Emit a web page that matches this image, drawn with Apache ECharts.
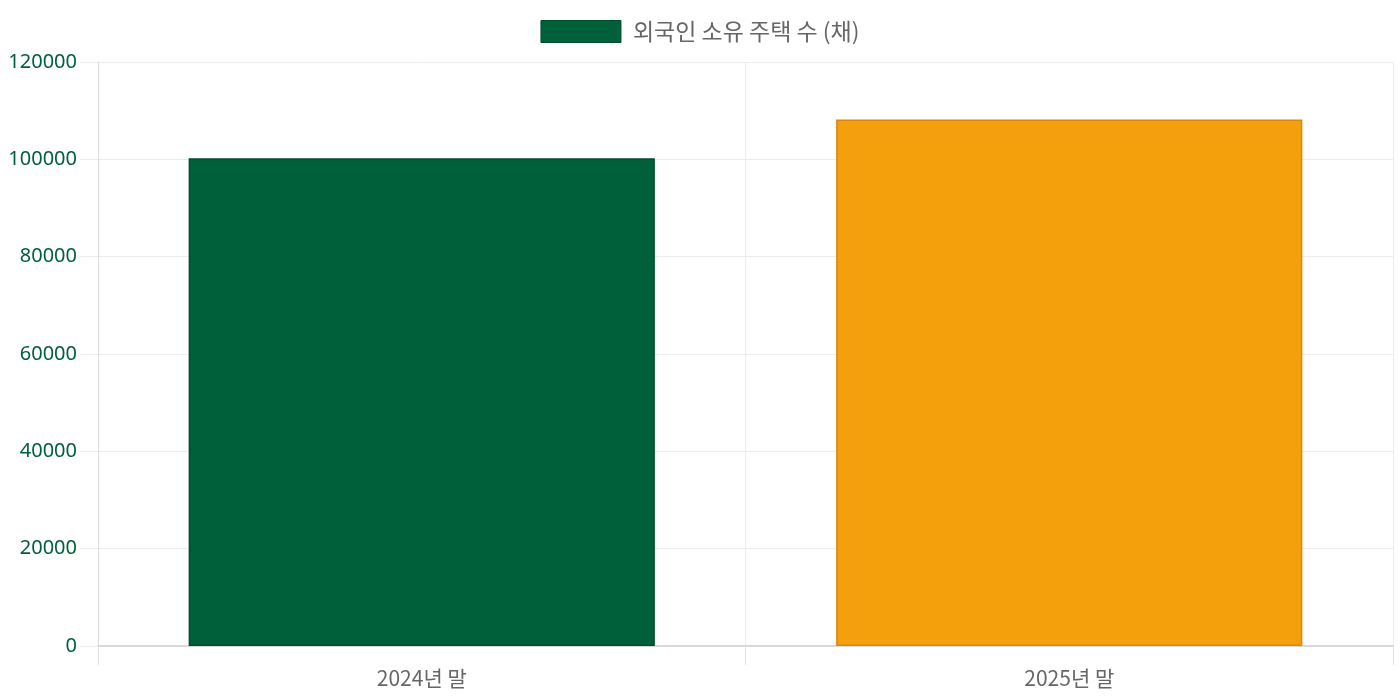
<!DOCTYPE html>
<html>
<head>
<meta charset="utf-8">
<script src="https://cdn.jsdelivr.net/npm/echarts@6/dist/echarts.min.js"></script>
<style>
  html, body { margin: 0; padding: 0; background: #fff; }
  #chart-container { width: 1400px; height: 700px; }
</style>
</head>
<body>
<div id="chart-container"></div>
<script>
var categories = ['2024년 말', '2025년 말'];
var values = [100216, 108200];
var barColors = ['#00603a', '#f4a00d'];
var borderColors = ['#004d2e', '#e0850a'];
var seriesName = '외국인 소유 주택 수 (채)';

var dom = document.getElementById('chart-container');
var myChart = echarts.init(dom, null, { renderer: 'canvas' });

var barData = values.map(function (v, i) {
  return {
    value: v,
    itemStyle: { color: barColors[i], borderColor: borderColors[i], borderWidth: 1.5 }
  };
});

var option = {
  textStyle: { fontFamily: '"Noto Sans", "Noto Sans CJK KR", sans-serif' },
  animation: false,
  legend: {
    top: 15,
    left: 'center',
    icon: 'rect',
    itemWidth: 80,
    itemHeight: 22,
    itemGap: 12,
    textStyle: {
      color: '#666',
      fontSize: 23,
      padding: [0, 0, 0, 7],
      fontFamily: '"Noto Sans CJK KR", sans-serif'
    },
    data: [{ name: seriesName, itemStyle: { color: barColors[0], borderColor: borderColors[0], borderWidth: 1 } }]
  },
  grid: { left: 98, right: 7, top: 62, bottom: 54, containLabel: false },
  xAxis: {
    type: 'category',
    data: categories,
    axisLine: { lineStyle: { color: '#d9d9d9', width: 2 } },
    axisTick: { show: true, length: 19, lineStyle: { color: '#e0e0e0' } },
    splitLine: { show: true, lineStyle: { color: '#ececec' } },
    axisLabel: { color: '#666', fontSize: 21, margin: 22, fontFamily: '"Noto Sans CJK KR", sans-serif' }
  },
  yAxis: {
    type: 'value',
    min: 0,
    max: 120000,
    interval: 20000,
    axisLine: { show: true, lineStyle: { color: '#dcdcdc' } },
    axisTick: { show: true, length: 18, lineStyle: { color: '#ececec' } },
    splitLine: { lineStyle: { color: '#ececec' } },
    axisLabel: {
      color: '#00603a',
      fontSize: 20,
      margin: 21,
      formatter: function (v) { return String(v); }
    }
  },
  series: [
    {
      type: 'bar',
      name: seriesName,
      data: barData,
      barWidth: '72%',
      itemStyle: { color: barColors[0] }
    }
  ]
};

myChart.setOption(option);
window.addEventListener('resize', myChart.resize);
</script>
</body>
</html>
